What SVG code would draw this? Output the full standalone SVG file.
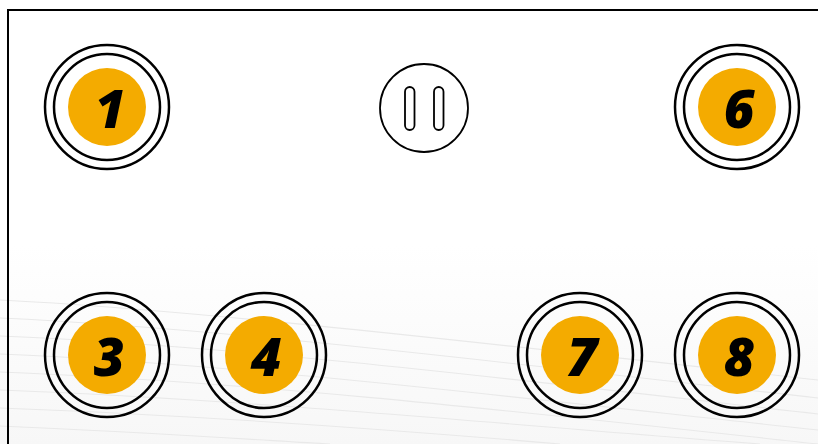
<svg xmlns="http://www.w3.org/2000/svg" width="818" height="444" viewBox="0 0 818 444">
<defs>
<linearGradient id="bg" x1="0" y1="0" x2="0" y2="1">
<stop offset="0" stop-color="#ffffff"/>
<stop offset="0.55" stop-color="#ffffff"/>
<stop offset="1" stop-color="#f7f7f7"/>
</linearGradient>
<linearGradient id="fade" x1="0" y1="0" x2="1" y2="0">
<stop offset="0" stop-color="#000" stop-opacity="1"/>
<stop offset="1" stop-color="#000" stop-opacity="0.4"/>
</linearGradient>
<g id="btn">
<circle r="62" class="ring"/>
<circle r="53" class="ring"/>
<circle r="39" class="core"/>
</g>
</defs>
<style>
.ring{fill:none;stroke:#000;stroke-width:2.5}
.core{fill:#f4ab00}
.num{font-family:"Open Sans","Noto Sans","DejaVu Sans",sans-serif;font-weight:800;font-style:italic;font-size:53px;fill:#000;text-anchor:middle}
.wave{fill:none;stroke:#e9e9e9;stroke-width:1.1}
</style>
<rect x="0" y="0" width="818" height="444" fill="url(#bg)"/>
<g id="texture">
<path class="wave" d="M0,300 C200,310 500,345 818,380"/>
<path class="wave" d="M0,318 C220,328 500,362 818,398"/>
<path class="wave" d="M0,336 C240,346 520,380 818,414"/>
<path class="wave" d="M0,354 C240,364 520,398 818,430"/>
<path class="wave" d="M0,372 C260,382 540,414 818,444"/>
<path class="wave" d="M0,390 C260,400 520,426 760,444"/>
<path class="wave" d="M0,408 C220,416 420,432 560,444"/>
<path class="wave" d="M0,426 C140,432 260,440 330,444"/>
</g>
<g id="frame" fill="none" stroke="#000" stroke-width="2">
<path d="M8,444 V10 H818"/>
</g>
<g id="connectors"></g>
<g id="node-1"><use href="#btn" x="107" y="107"/><text class="num" x="110" y="128">1</text></g>
<g id="node-pause">
<circle cx="424" cy="108" r="44" fill="#fff" stroke="#000" stroke-width="1.8"/>
<rect x="405" y="87" width="9.5" height="43" rx="4.75" fill="none" stroke="#000" stroke-width="1.8"/>
<rect x="434" y="87" width="9.5" height="43" rx="4.75" fill="none" stroke="#000" stroke-width="1.8"/>
</g>
<g id="node-6"><use href="#btn" x="737" y="107"/><text class="num" x="739" y="128">6</text></g>
<g id="node-3"><use href="#btn" x="107" y="355"/><text class="num" x="109" y="376">3</text></g>
<g id="node-4"><use href="#btn" x="264" y="355"/><text class="num" x="266" y="376">4</text></g>
<g id="node-7"><use href="#btn" x="580" y="355"/><text class="num" x="582" y="376">7</text></g>
<g id="node-8"><use href="#btn" x="737" y="355"/><text class="num" x="739" y="376">8</text></g>
</svg>
